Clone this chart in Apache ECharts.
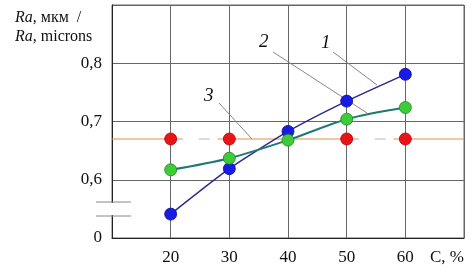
<!DOCTYPE html>
<html><head><meta charset="utf-8">
<script src="https://cdn.jsdelivr.net/npm/echarts@6/dist/echarts.min.js"></script>
<style>html,body{margin:0;padding:0;background:#fff}#c{width:473px;height:272px}</style>
</head><body><div id="c"></div>
<script>
const xValues = [20, 30, 40, 50, 60];
const curve1 = [0.541, 0.619, 0.683, 0.735, 0.781];
const curve2 = [0.617, 0.637, 0.668, 0.704, 0.724];
const curve3 = [0.67, 0.67, null, 0.67, 0.67];
const level3 = 0.67;
const levelX = [10, 70];
const yTickLabels = {"0.5": "0", "0.6": "0,6", "0.7": "0,7", "0.8": "0,8", "0.9": ""};
const xTickLabels = {"10": "", "20": "20", "30": "30", "40": "40", "50": "50", "60": "60", "70": "C, %"};

const F = 'Liberation Serif, Times New Roman, serif';
const chart = echarts.init(document.getElementById('c'), null, {renderer: 'canvas'});
const pts = (arr) => xValues.map((x, i) => [x, arr[i]]);

chart.setOption({
  animation: false,
  backgroundColor: '#fff',
  textStyle: {fontFamily: F},
  title: {
    left: 10, top: 3,
    text: '{i|Ra}, мкм  /\n{i|Ra}, microns',
    textStyle: {
      fontFamily: F, fontSize: 16, fontWeight: 'normal', color: '#111', lineHeight: 19,
      rich: {i: {fontFamily: F, fontStyle: 'italic', fontSize: 16, color: '#111'}}
    }
  },
  grid: {left: 112, right: 9, top: 5, bottom: 34, show: true, borderColor: '#666', borderWidth: 1},
  xAxis: {
    type: 'value', min: 10, max: 70, interval: 10,
    axisLine: {show: true, lineStyle: {color: '#222', width: 1}},
    axisTick: {show: false},
    splitLine: {show: true, lineStyle: {color: '#666', width: 1}},
    axisLabel: {
      margin: 11, color: '#111', fontSize: 17, fontFamily: F,
      formatter: v => {
        const s = xTickLabels[String(Math.round(v))];
        if (s === 'C, %') return '{n|' + s + '}';
        return s === undefined ? '' : s;
      },
      rich: {n: {fontFamily: F, fontSize: 17, color: '#111', width: 68, align: 'left'}}
    }
  },
  yAxis: {
    type: 'value', min: 0.5, max: 0.9, interval: 0.1,
    axisLine: {show: true, lineStyle: {color: '#222', width: 1}},
    axisTick: {show: false},
    splitLine: {show: true, lineStyle: {color: '#666', width: 1}},
    axisLabel: {
      margin: 10, color: '#111', fontSize: 17, fontFamily: F,
      formatter: v => { const s = yTickLabels[(Math.round(v * 10) / 10).toFixed(1)]; return s === undefined ? '' : s; }
    }
  },
  series: [
    {
      name: 'level', type: 'line', data: levelX.map(x => [x, level3]), z: 1, silent: true, symbol: 'none',
      lineStyle: {color: '#e09050', width: 1.2}
    },
    {
      name: '3gap', type: 'line', data: pts(curve3), z: 2, symbol: 'none', connectNulls: false, silent: true,
      lineStyle: {color: '#ffffff', width: 3, type: [35, 40], dashOffset: 63}
    },
    {
      name: '3dash', type: 'line', data: pts(curve3), z: 3, symbol: 'none', connectNulls: false, silent: true,
      lineStyle: {color: '#b8b8b8', width: 1.2, type: [11, 64], dashOffset: 47}
    },
    {
      name: '3', type: 'line', data: pts(curve3), z: 5, symbol: 'circle', symbolSize: 12,
      lineStyle: {width: 0, opacity: 0},
      itemStyle: {color: '#e8141a', borderColor: '#b00000', borderWidth: 0.8}
    },
    {
      name: '1', type: 'line', data: pts(curve1), z: 4, smooth: 0.2, symbol: 'circle', symbolSize: 12,
      lineStyle: {color: '#2a2a90', width: 1.5},
      itemStyle: {color: '#1a1ae6', borderColor: '#0a0a90', borderWidth: 0.8}
    },
    {
      name: '2', type: 'line', data: pts(curve2), z: 6, smooth: 0.3, symbol: 'circle', symbolSize: 12,
      lineStyle: {color: '#1d7a70', width: 2},
      itemStyle: {color: '#3ecb3a', borderColor: '#1c8a1c', borderWidth: 0.8}
    }
  ],
  graphic: [
    {type: 'rect', shape: {x: 110, y: 203, width: 5, height: 12}, style: {fill: '#fff'}, z: 100},
    {type: 'line', shape: {x1: 96, y1: 202, x2: 131, y2: 202}, style: {stroke: '#888', lineWidth: 1}, z: 101},
    {type: 'line', shape: {x1: 96, y1: 216, x2: 131, y2: 216}, style: {stroke: '#888', lineWidth: 1}, z: 101},
    {type: 'line', shape: {x1: 219, y1: 103, x2: 252, y2: 139}, style: {stroke: '#888', lineWidth: 1}, z: 3},
    {type: 'line', shape: {x1: 273, y1: 52, x2: 367, y2: 113}, style: {stroke: '#888', lineWidth: 1}, z: 3},
    {type: 'line', shape: {x1: 333, y1: 52, x2: 377, y2: 85}, style: {stroke: '#888', lineWidth: 1}, z: 3},
    {type: 'text', left: 204, top: 86, style: {text: '3', font: 'italic 19px ' + F, fill: '#111'}, z: 102},
    {type: 'text', left: 259, top: 32, style: {text: '2', font: 'italic 19px ' + F, fill: '#111'}, z: 102},
    {type: 'text', left: 321, top: 33, style: {text: '1', font: 'italic 19px ' + F, fill: '#111'}, z: 102}
  ]
});
</script></body></html>
